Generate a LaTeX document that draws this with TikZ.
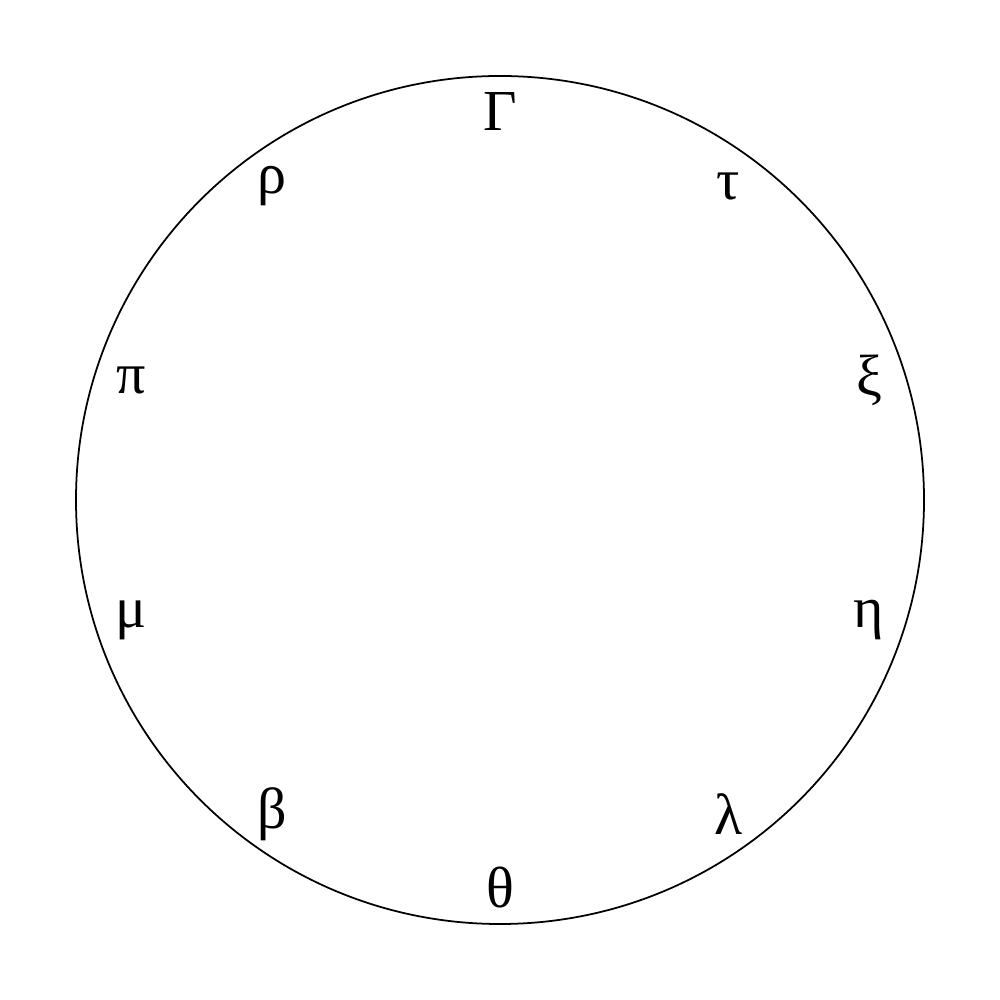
\documentclass[tikz,border=0pt]{standalone}
\usepackage{fontspec}
\setmainfont{Liberation Serif}
\usepackage{tikz}
\definecolor{ink}{HTML}{000000}
\tikzset{
  rim/.style={draw=ink, line width=0.5pt},
  lbl/.style={inner sep=0pt, font=\fontsize{16.5}{18}\selectfont, text=ink},
}

\begin{document}
\begin{tikzpicture}
    \useasboundingbox (-5,-5) rectangle (5,5);
    \coordinate (o) at (0,0);
    \draw[rim] (o) circle (4.24);
    \foreach \ang/\txt/\nm in {90/Γ/g, 54/τ/t, 18/ξ/x, -18/η/e, -54/λ/l,
        -90/θ/th, -126/β/b, -162/μ/m, 162/π/p, 126/ρ/r}
      \node[lbl] (\nm) at (\ang:3.88) {\txt};
  \end{tikzpicture}
\end{document}
